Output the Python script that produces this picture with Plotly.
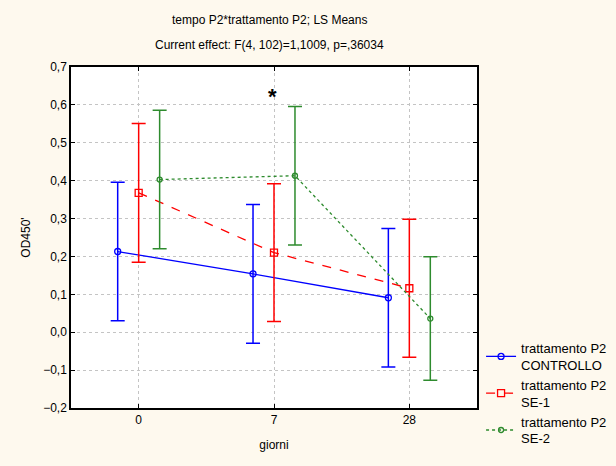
import plotly.graph_objects as go

categories = ["0", "7", "28"]
series_names = ["trattamento P2<br>CONTROLLO", "trattamento P2<br>SE-1", "trattamento P2<br>SE-2"]
means_ctrl = [0.213, 0.154, 0.091]
means_se1 = [0.368, 0.210, 0.116]
means_se2 = [0.403, 0.413, 0.036]
err_ctrl = [0.183, 0.183, 0.183]
err_se1 = [0.183, 0.182, 0.182]
err_se2 = [0.183, 0.183, 0.163]
y_ticks = [-0.2, -0.1, 0.0, 0.1, 0.2, 0.3, 0.4, 0.5, 0.6, 0.7]
title_lines = ["tempo P2*trattamento P2; LS Means", "Current effect: F(4, 102)=1,1009, p=,36034"]

offsets = [-0.155, 0.0, 0.155]
colors = ["#0000FF", "#FF0000", "#2E8B2E"]
dashes = ["solid", "dash", "dot"]
symbols = ["circle-open", "square-open", "circle-open"]
msizes = [6, 7, 5]

fig = go.Figure()
for name, m, e, off, c, d, s, ms in zip(series_names, [means_ctrl, means_se1, means_se2],
                                         [err_ctrl, err_se1, err_se2], offsets, colors, dashes, symbols, msizes):
    fig.add_trace(go.Scatter(
        x=[i + off for i in range(len(categories))], y=m, name=name,
        mode="lines+markers",
        line=dict(color=c, dash=d, width=1.3),
        marker=dict(symbol=s, size=ms, color=c, line=dict(width=1.3, color=c)),
        error_y=dict(type="data", array=e, visible=True, color=c, thickness=1.5, width=7),
    ))

fig.add_annotation(x=0.99, y=0.622, text="<b>*</b>", showarrow=False,
                   font=dict(size=22, color="black", family="Liberation Sans, Arial"))
for txt, yp in zip(title_lines, [1.138, 1.0645]):
    fig.add_annotation(x=0.49, y=yp, xref="paper", yref="paper", text=txt, showarrow=False,
                       xanchor="center", yanchor="middle", font=dict(size=12, color="black"))

fig.update_layout(
    width=616, height=466,
    margin=dict(l=71, r=139, t=67, b=58, autoexpand=False),
    paper_bgcolor="#FEF9EE", plot_bgcolor="white",
    separators=",.",
    font=dict(family="Liberation Sans, Arial", size=12, color="black"),
    showlegend=True,
    legend=dict(x=1.01, y=0.22, xanchor="left", yanchor="top", bgcolor="rgba(0,0,0,0)",
                font=dict(size=13), tracegroupgap=0),
)
fig.update_xaxes(range=[-0.5, 2.5], tickvals=list(range(len(categories))), ticktext=categories,
                 showgrid=True, gridcolor="#C4C4C4", griddash="dot", gridwidth=1,
                 showline=True, linecolor="black", linewidth=1.5, mirror="ticks",
                 ticks="inside", ticklen=4, tickcolor="black", zeroline=False,
                 title=dict(text="giorni", font=dict(size=12), standoff=14))
fig.update_yaxes(range=[-0.2, 0.7], tickvals=y_ticks, tickformat=".1f",
                 showgrid=True, gridcolor="#C4C4C4", griddash="dot", gridwidth=1,
                 showline=True, linecolor="black", linewidth=1.5, mirror="ticks",
                 ticks="inside", ticklen=4, tickcolor="black", zeroline=False,
                 title=dict(text="OD450'", font=dict(size=12), standoff=10))

fig.write_html("out.html")
